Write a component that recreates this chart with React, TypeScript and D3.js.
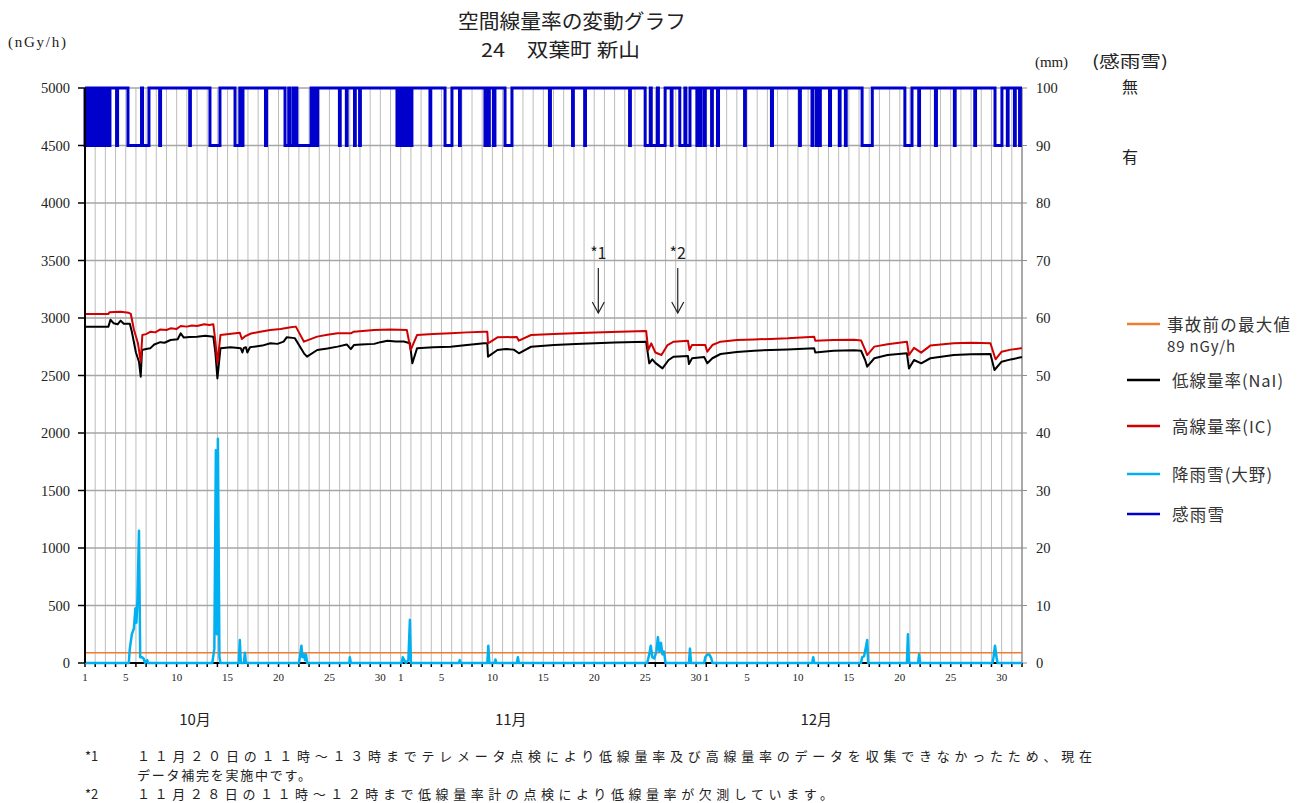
import React from 'react';
import * as d3 from 'd3';

// day offsets from Oct 1 00:00 (0..92)
const naiSeries: [number, number][] = [
    [0, 2925], [2.3, 2925], [2.5, 2985], [2.8, 2955], [3.2, 2945], [3.5, 2977], [3.8, 2950], [4.4, 2950],
    [4.6, 2880], [5.0, 2700], [5.3, 2620], [5.47, 2490], [5.6, 2722], [6.0, 2730], [6.4, 2736], [6.8, 2770],
    [7.4, 2790], [7.8, 2785], [8.4, 2809], [9.1, 2815], [9.4, 2867], [9.7, 2830], [10.3, 2835], [11.0, 2838],
    [11.8, 2845], [12.6, 2838], [12.8, 2700], [13.0, 2475],
    [13.3, 2736], [14.3, 2745], [15.3, 2736], [15.45, 2700], [15.6, 2740], [15.8, 2745], [15.94, 2700], [16.2, 2745],
    [16.6, 2751], [17.4, 2760], [18.2, 2780], [18.9, 2775], [19.5, 2795], [19.8, 2832], [20.6, 2825], [21.5, 2693],
    [21.8, 2664], [22.8, 2722], [23.8, 2735], [24.8, 2751], [25.7, 2770], [26.1, 2730], [26.4, 2765], [27.1, 2770],
    [28.4, 2775], [29.0, 2790], [29.7, 2803], [30.5, 2795], [31.3, 2795],
    [31.9, 2780], [32.14, 2606], [32.6, 2736], [34.2, 2745], [35.9, 2751], [37.5, 2765], [39.2, 2780], [39.5, 2780],
    [39.57, 2664], [40.5, 2722], [41.3, 2730],
    [42.1, 2725], [42.6, 2693], [43.8, 2750], [46.05, 2765], [48.2, 2774], [52, 2786], [55.1, 2794], [55.4, 2606],
    [55.7, 2640], [56.0, 2610], [56.7, 2562], [57.3, 2635], [57.8, 2664], [59.2, 2670], [59.3, 2600], [59.6, 2649],
    [60.8, 2660], [61.1, 2606], [61.6, 2650], [62.4, 2687], [64.0, 2705], [65.7, 2716], [67.3, 2722], [69.0, 2727],
    [71.6, 2736], [71.7, 2699], [73.5, 2715],
    [75.5, 2720], [76.2, 2715], [76.6, 2635], [76.8, 2577], [77.5, 2650], [78.8, 2678], [80.7, 2693], [80.9, 2562],
    [81.4, 2635], [82.1, 2606], [83.0, 2650], [85.3, 2678], [87.0, 2685], [88.9, 2687], [89.3, 2548], [90.0, 2620],
    [90.9, 2640], [91.9, 2658], [92, 2660]
];

const icSeries: [number, number][] = [
    [0, 3035], [2.3, 3035], [2.4, 3050], [3.5, 3055], [4.3, 3045], [4.5, 3035], [4.8, 2900], [5.2, 2780],
    [5.47, 2620], [5.63, 2852], [6.0, 2860], [6.45, 2881], [6.9, 2875], [7.4, 2901], [8.0, 2896], [8.4, 2910],
    [9.0, 2905], [9.4, 2930], [10.0, 2925], [10.5, 2935], [11.0, 2930], [11.7, 2945], [12.2, 2940], [12.6, 2945],
    [12.8, 2800], [13.0, 2606], [13.3, 2852], [15.2, 2872], [15.4, 2817], [15.7, 2840], [16.3, 2865], [17.2, 2880],
    [18.2, 2896], [19.2, 2905], [20.2, 2919],
    [20.7, 2925], [21.5, 2794], [22.8, 2838], [23.8, 2855], [24.8, 2867], [26.1, 2867], [26.4, 2881], [28.4, 2896],
    [30.0, 2901], [31.6, 2896], [31.98, 2722], [32.6, 2852], [34.2, 2860], [35.9, 2867], [37.5, 2875], [39.2, 2881],
    [39.5, 2880], [39.57, 2780], [40.5, 2832],
    [42.4, 2835], [42.6, 2803], [43.8, 2852], [46.05, 2861], [49.3, 2872], [52.5, 2881], [55.1, 2887], [55.3, 2722],
    [55.6, 2780], [56.0, 2700], [56.6, 2678], [57.2, 2765], [57.8, 2794], [59.2, 2803], [59.35, 2722], [59.6, 2765],
    [60.9, 2765], [61.1, 2707], [61.6, 2765], [62.4, 2794], [64.0, 2808], [65.7, 2814], [67.3, 2818], [69.0, 2823],
    [71.6, 2838], [71.7, 2803], [73.5, 2808],
    [75.5, 2810], [76.2, 2805], [76.6, 2722], [76.8, 2678], [77.5, 2751], [78.8, 2771], [80.7, 2794], [80.9, 2678],
    [81.4, 2740], [82.1, 2699], [83.0, 2760], [85.3, 2780], [87.0, 2785], [88.9, 2780], [89.4, 2641], [90.0, 2707],
    [90.9, 2725], [91.9, 2736], [92, 2736]
];

// precipitation (mm), right axis
const rainSeries: [number, number][] = [
    [0, 0], [4.3, 0], [4.4, 2.5], [4.6, 5], [4.8, 6], [4.95, 9.5], [5.05, 7], [5.15, 11], [5.3, 23], [5.42, 1],
    [5.6, 1], [5.75, 0.8], [5.9, 0], [6.1, 0.5], [6.2, 0],
    [12.5, 0], [12.7, 2.5], [12.85, 37], [12.95, 5], [13.05, 39], [13.2, 1], [13.3, 0],
    [15.1, 0], [15.2, 4], [15.3, 0], [15.6, 0], [15.7, 1.8], [15.8, 0],
    [21.0, 0], [21.1, 1], [21.25, 3], [21.35, 1], [21.5, 1.5], [21.6, 0.5], [21.7, 1.5], [21.8, 0],
    [25.95, 0], [26.0, 1], [26.1, 0],
    [31.1, 0], [31.2, 1], [31.35, 0.5], [31.5, 0], [31.75, 0.5], [31.9, 7.5], [32.0, 0],
    [36.7, 0], [36.8, 0.5], [36.9, 0],
    [39.5, 0], [39.6, 3], [39.7, 0], [40.2, 0], [40.3, 0.6], [40.4, 0],
    [42.4, 0], [42.5, 1], [42.6, 0],
    [55.2, 0], [55.4, 1.5], [55.55, 3], [55.7, 1], [55.9, 0.8], [56.1, 2], [56.25, 4.5], [56.4, 2], [56.55, 3.5],
    [56.7, 1.5], [56.85, 2], [57.0, 0],
    [59.3, 0], [59.4, 2.5], [59.5, 0],
    [60.8, 0], [60.9, 1], [61.1, 1.5], [61.3, 1.5], [61.5, 0.8], [61.6, 0],
    [71.4, 0], [71.5, 1], [71.6, 0],
    [76.2, 0], [76.3, 1], [76.5, 1.2], [76.7, 3], [76.8, 4], [76.9, 0],
    [80.7, 0], [80.8, 5], [80.9, 0],
    [81.8, 0], [81.9, 1.5], [82.0, 0],
    [89.1, 0], [89.2, 1], [89.35, 3], [89.5, 1], [89.6, 0],
    [92, 0]
];

// 感雨雪: spans where it was "有" (drawn at 90), otherwise "無" (100)
const senseOn: [number, number][] = [
    [0, 0.15], [0.25, 0.4], [0.5, 0.6], [0.7, 0.9], [1.0, 1.1], [1.2, 1.35], [1.45, 1.6], [1.7, 1.85], [1.95, 2.05],
    [2.15, 2.3], [2.35, 2.45], [3.1, 3.2], [4.22, 5.55], [5.65, 6.28], [7.33, 7.42], [10.28, 10.35], [12.27, 13.25],
    [14.73, 15.2], [15.3, 15.51], [17.72, 17.82], [19.64, 20.0], [20.1, 20.42], [20.6, 20.7], [20.8, 22.2],
    [22.4, 22.5], [22.75, 22.85], [24.98, 25.06], [25.66, 25.74], [26.46, 26.54], [26.96, 27.04],
    [30.63, 30.8], [30.9, 31.0], [31.1, 31.3], [31.4, 31.5], [31.6, 31.8], [31.9, 32.1], [33.87, 33.95],
    [35.35, 36.03], [36.77, 36.85], [39.27, 39.5], [39.6, 39.7], [40.1, 40.25], [41.24, 41.92], [45.6, 45.7],
    [47.87, 47.95], [49.06, 49.14], [53.47, 53.55], [55.0, 55.5], [55.6, 56.2], [56.3, 56.96], [57.56, 57.64],
    [58.4, 58.9], [59.0, 59.4], [60.08, 60.16], [60.4, 60.48], [60.8, 60.9], [61.52, 61.6], [62.1, 62.2],
    [64.76, 64.84], [67.4, 67.5], [70.16, 70.24], [71.38, 71.46], [71.8, 71.9], [72.1, 72.2], [73.1, 73.2],
    [74.06, 74.14], [74.66, 74.74], [76.3, 77.3], [80.5, 81.2], [81.86, 81.94], [83.5, 83.6], [85.36, 85.44],
    [87.36, 87.44], [89.35, 90.03], [90.56, 90.64], [91.26, 91.34], [91.76, 91.84]
];

const leftTicks = [0, 500, 1000, 1500, 2000, 2500, 3000, 3500, 4000, 4500, 5000];
const rightTicks = [0, 10, 20, 30, 40, 50, 60, 70, 80, 90, 100];
const months = [{ label: '10月', start: 0, days: 31 }, { label: '11月', start: 31, days: 30 }, { label: '12月', start: 61, days: 31 }];
const dayLabels = [1, 5, 10, 15, 20, 25, 30];
const PRE_ACCIDENT_MAX = 89;

const legendItems = [
    { label: '事故前の最大値', sub: '89 nGy/h', color: '#ed7d31', w: 123 },
    { label: '低線量率(NaI)', color: '#000000', w: 111 },
    { label: '高線量率(IC)', color: '#d00000', w: 100 },
    { label: '降雨雪(大野)', color: '#00b0f0', w: 100 },
    { label: '感雨雪', color: '#0000cc', w: 52 }
];

const notes = [
    { mark: '*1', lines: ['１１月２０日の１１時～１３時までテレメータ点検により低線量率及び高線量率のデータを収集できなかったため、現在', 'データ補完を実施中です。'] },
    { mark: '*2', lines: ['１１月２８日の１１時～１２時まで低線量率計の点検により低線量率が欠測しています。'] }
];
const noteWidths = [955, 174, 696];

const markers = [{ label: '*1', day: 50.4 }, { label: '*2', day: 58.2 }];

const JP = '"Noto Sans CJK JP", sans-serif';
const SERIF = '"Liberation Serif", "DejaVu Serif", serif';

export default function App() {
    const width = 1303;
    const height = 803;
    const plot = { left: 85, right: 1022, top: 88, bottom: 663 };

    const x = d3.scaleLinear().domain([0, 92]).range([plot.left, plot.right]);
    const yL = d3.scaleLinear().domain([0, 5000]).range([plot.bottom, plot.top]);
    const yR = d3.scaleLinear().domain([0, 100]).range([plot.bottom, plot.top]);

    const lineL = d3.line<[number, number]>().x(d => x(d[0])).y(d => yL(d[1]));
    const lineR = d3.line<[number, number]>().x(d => x(d[0])).y(d => yR(d[1]));

    const sensePts: [number, number][] = [[0, 100]];
    senseOn.forEach(([a, b]) => {
        sensePts.push([a, 100], [a, 90], [b, 90], [b, 100]);
    });
    sensePts.push([92, 100]);

    const dayGrid = d3.range(1, 92);
    const allDays = d3.range(0, 93);

    const legendY = [324, 380, 426, 474, 514];
    const noteY = [761, 780, 799];
    let noteRow = 0;

    return (
        <div style={{ position: 'fixed', left: 0, top: 0, background: '#fff' }}>
            <svg width={width} height={height} style={{ display: 'block' }}>
                <rect width={width} height={height} fill="#fff" />

                {/* title */}
                <text x={458} y={29} textLength={228} lengthAdjust="spacingAndGlyphs" fontFamily={JP} fontSize={20} fill="#222">空間線量率の変動グラフ</text>
                <text x={481} y={57} textLength={159} lengthAdjust="spacingAndGlyphs" fontFamily={JP} fontSize={19} fill="#222">24　双葉町 新山</text>
                <text x={8} y={47} textLength={58} fontFamily={SERIF} fontSize={15} fill="#222">(nGy/h)</text>
                <text x={1035} y={67} textLength={33} fontFamily={SERIF} fontSize={15} fill="#222">(mm)</text>
                <text x={1092} y={67} textLength={76} lengthAdjust="spacingAndGlyphs" fontFamily={JP} fontSize={16} fill="#222">(感雨雪)</text>
                <text x={1130} y={93} textAnchor="middle" fontFamily={JP} fontSize={16} fill="#222">無</text>
                <text x={1130} y={163} textAnchor="middle" fontFamily={JP} fontSize={16} fill="#222">有</text>

                {/* grid */}
                <g>
                    {dayGrid.map(d => (
                        <line key={d} x1={x(d)} x2={x(d)} y1={plot.top} y2={plot.bottom} stroke="#bdbdbd" strokeWidth={1} />
                    ))}
                    {leftTicks.filter(t => t > 0).map(t => (
                        <line key={t} x1={plot.left} x2={plot.right} y1={yL(t)} y2={yL(t)} stroke="#a6a6a6" strokeWidth={1.5} />
                    ))}
                </g>

                {/* right axis */}
                <line x1={plot.right} x2={plot.right} y1={plot.top} y2={plot.bottom} stroke="#8c8c8c" strokeWidth={1.5} />
                {rightTicks.map(t => (
                    <g key={t}>
                        <line x1={plot.right} x2={plot.right + 5} y1={yR(t)} y2={yR(t)} stroke="#8c8c8c" strokeWidth={1} />
                        <text x={plot.right + 14} y={yR(t) + 5} fontFamily={SERIF} fontSize={14.5} fill="#222">{t}</text>
                    </g>
                ))}

                {/* bottom axis */}
                <line x1={plot.left} x2={plot.right} y1={plot.bottom} y2={plot.bottom} stroke="#000" strokeWidth={2} />
                {allDays.map(d => (
                    <line key={d} x1={x(d)} x2={x(d)} y1={plot.bottom} y2={plot.bottom + 4} stroke="#000" strokeWidth={1.5} />
                ))}
                {months.map(m => (
                    <g key={m.label}>
                        {dayLabels.filter(d => d <= m.days).map(d => (
                            <text key={d} x={x(m.start + d - 1)} y={681} textAnchor="middle" fontFamily={SERIF} fontSize={11} fill="#222">{d}</text>
                        ))}
                        <text x={x(m.start + 10.8)} y={725} textAnchor="middle" fontFamily={JP} fontSize={15} fill="#222">{m.label}</text>
                    </g>
                ))}

                {/* pre-accident max */}
                <line x1={plot.left} x2={plot.right} y1={yL(PRE_ACCIDENT_MAX)} y2={yL(PRE_ACCIDENT_MAX)} stroke="#ed7d31" strokeWidth={1.5} />

                {/* series */}
                <path d={lineR(rainSeries) || ''} fill="none" stroke="#00b0f0" strokeWidth={2.5} strokeLinejoin="round" />
                <path d={lineL(naiSeries) || ''} fill="none" stroke="#000" strokeWidth={2} strokeLinejoin="round" />
                <path d={lineL(icSeries) || ''} fill="none" stroke="#d00000" strokeWidth={2} strokeLinejoin="round" />
                <path d={lineR(sensePts) || ''} fill="none" stroke="#0000cc" strokeWidth={3} />

                {/* left axis */}
                <line x1={plot.left} x2={plot.left} y1={plot.top} y2={plot.bottom} stroke="#000" strokeWidth={2} />
                {leftTicks.map(t => (
                    <g key={t}>
                        <line x1={plot.left - 7} x2={plot.left} y1={yL(t)} y2={yL(t)} stroke="#000" strokeWidth={1.5} />
                        <text x={70} y={yL(t) + 5} textAnchor="end" fontFamily={SERIF} fontSize={14.5} fill="#222">{t}</text>
                    </g>
                ))}

                {/* markers */}
                {markers.map(m => (
                    <g key={m.label}>
                        <text x={x(m.day)} y={259} textAnchor="middle" fontFamily={JP} fontSize={16} fill="#222">{m.label}</text>
                        <line x1={x(m.day)} x2={x(m.day)} y1={268} y2={313} stroke="#222" strokeWidth={1.2} />
                        <path d={`M${x(m.day) - 6},${302}L${x(m.day)},${313}L${x(m.day) + 6},${302}`} fill="none" stroke="#222" strokeWidth={1.2} />
                    </g>
                ))}

                {/* legend */}
                {legendItems.map((item, i) => (
                    <g key={item.label}>
                        <line x1={1127} x2={1160} y1={legendY[i]} y2={legendY[i]} stroke={item.color} strokeWidth={2.5} />
                        <text x={i === 0 ? 1167 : 1172} y={legendY[i] + 7} textLength={item.w} fontFamily={JP} fontSize={16.5} fill="#333">{item.label}</text>
                        {item.sub && <text x={1167} y={legendY[i] + 28} textLength={68} fontFamily={JP} fontSize={15} fill="#333">{item.sub}</text>}
                    </g>
                ))}

                {/* notes */}
                {notes.map(n => {
                    const rows = n.lines.map((ln, j) => {
                        const row = noteRow++;
                        return (
                            <g key={j}>
                                {j === 0 && <text x={85} y={noteY[row]} fontFamily={JP} fontSize={13} fill="#222">{n.mark}</text>}
                                <text x={137} y={noteY[row]} textLength={noteWidths[row]} fontFamily={JP} fontSize={13} fill="#222">{ln}</text>
                            </g>
                        );
                    });
                    return <g key={n.mark}>{rows}</g>;
                })}
            </svg>
        </div>
    );
}
